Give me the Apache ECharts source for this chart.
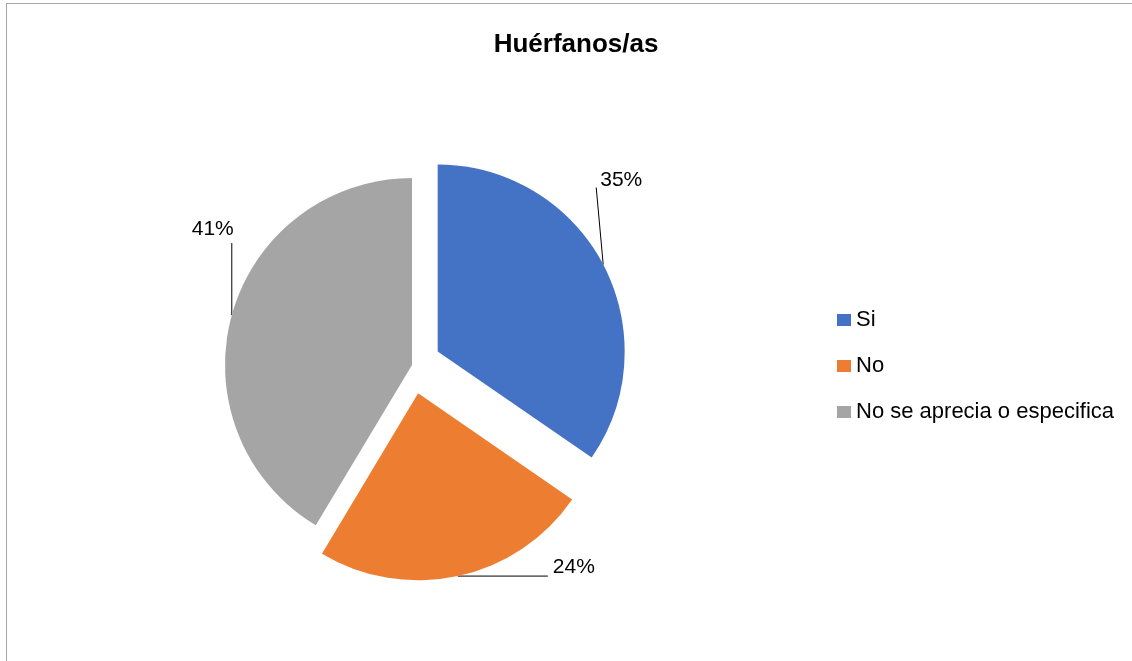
<!DOCTYPE html>
<html>
<head>
<meta charset="utf-8">
<style>
  html, body { margin: 0; padding: 0; background: #fff; }
  #frame { position: absolute; left: 6px; top: 3px; right: 0; bottom: 0; border-left: 1px solid #a6a6a6; border-top: 1px solid #a6a6a6; }
  #main { position: absolute; left: 0; top: 0; width: 1132px; height: 661px; }
</style>
<script src="https://cdn.jsdelivr.net/npm/echarts@6/dist/echarts.min.js"></script>
</head>
<body>
<div id="frame"></div>
<div id="main"></div>
<script>
var categories = ['Si', 'No', 'No se aprecia o especifica'];
// shares; labels show them rounded (35%, 24%, 41%)
var shares = [34.6, 24.0, 41.4];
var exploded = [true, true, false];
var colors = ['#4472C4', '#ED7D31', '#A5A5A5'];

var pieCenter = [412, 365];
var pieRadius = 187;
var explodeBy = 29;
var fontStack = 'Liberation Sans, Arial, sans-serif';

// label placement relative to the point where the leader line leaves the slice
var labelShift = [
  { dx: -3, dy: -74, align: 'left', va: 'bottom', lx: -7, ly: -77 },
  { dx: 95, dy: -9, align: 'left', va: 'middle', lx: 90, ly: 0 },
  { dx: 2, dy: -75, align: 'right', va: 'bottom', lx: 0, ly: -72 }
];

var total = shares.reduce(function (a, b) { return a + b; }, 0);

// outward shift of an exploded slice, along its middle angle
function explodeVector(i) {
  if (!exploded[i]) return [0, 0];
  var before = 0;
  for (var k = 0; k < i; k++) before += shares[k];
  var mid = (before + shares[i] / 2) / total * Math.PI * 2;
  return [Math.sin(mid) * explodeBy, -Math.cos(mid) * explodeBy];
}

var pieData = categories.map(function (name, i) {
  return { name: name, value: shares[i], selected: exploded[i] };
});
var labelData = categories.map(function (name, i) {
  return { name: name, value: shares[i] };
});

var chart = echarts.init(document.getElementById('main'));
var option = {
  backgroundColor: 'transparent',
  color: colors,
  title: {
    text: 'Huérfanos/as',
    left: 571,
    top: 27,
    textAlign: 'center',
    textStyle: {
      fontFamily: fontStack,
      fontSize: 26,
      fontWeight: 'bold',
      color: '#000'
    }
  },
  legend: {
    orient: 'vertical',
    left: 832,
    top: 304,
    itemGap: 24,
    itemWidth: 14,
    itemHeight: 12,
    icon: 'rect',
    textStyle: {
      fontFamily: fontStack,
      fontSize: 22,
      color: '#000'
    },
    data: categories
  },
  series: [{
    name: 'Huérfanos/as',
    type: 'pie',
    center: pieCenter,
    radius: [0, pieRadius],
    startAngle: 90,
    clockwise: true,
    selectedMode: 'multiple',
    selectedOffset: explodeBy,
    animation: false,
    itemStyle: { borderWidth: 0 },
    emphasis: { disabled: true },
    label: { show: false },
    labelLine: { show: false },
    data: pieData
  }, {
    // invisible copy of the pie that only carries the data labels
    name: 'etiquetas',
    type: 'pie',
    center: pieCenter,
    radius: [0, pieRadius],
    startAngle: 90,
    clockwise: true,
    silent: true,
    animation: false,
    itemStyle: { color: 'rgba(0,0,0,0)', borderWidth: 0 },
    emphasis: { disabled: true },
    label: {
      show: true,
      position: 'outside',
      formatter: function (p) { return Math.round(p.percent) + '%'; },
      fontFamily: fontStack,
      fontSize: 21,
      color: '#000'
    },
    labelLine: {
      show: true,
      length: 10,
      length2: 10,
      lineStyle: { color: '#000', width: 1 }
    },
    labelLayout: function (params) {
      var pts = params.labelLinePoints;
      if (!pts) return {};
      var i = params.dataIndex;
      var s = labelShift[i];
      var v = explodeVector(i);
      var p0 = [pts[0][0] + v[0], pts[0][1] + v[1]];
      return {
        x: p0[0] + s.dx,
        y: p0[1] + s.dy,
        align: s.align,
        verticalAlign: s.va,
        labelLinePoints: [p0, [p0[0] + s.lx, p0[1] + s.ly]]
      };
    },
    data: labelData
  }]
};
chart.setOption(option);
</script>
</body>
</html>
